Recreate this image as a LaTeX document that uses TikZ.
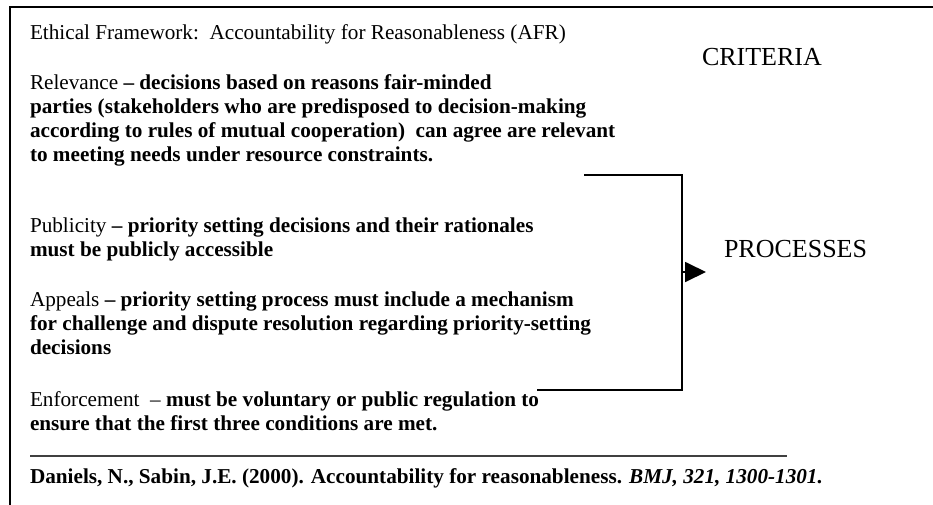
\documentclass[tikz,border=0pt]{standalone}
\usepackage{fontspec}
\setmainfont{Liberation Serif}
\usetikzlibrary{arrows.meta}
\begin{document}
\begin{tikzpicture}[x=1pt,y=-1pt,
  ln/.style={anchor=base west,inner sep=0pt,outer sep=0pt,font=\fontsize{21.2}{24}\selectfont},
  big/.style={anchor=base west,inner sep=0pt,outer sep=0pt,font=\fontsize{26}{30}\selectfont},
  frame/.style={line width=2pt,black},
  brk/.style={line width=1.8pt,black}]
\useasboundingbox (0,0) rectangle (933,504);
% outer frame (cropped on right and bottom)
\coordinate (ftl) at (10,7);
\coordinate (ftr) at (940,7);
\coordinate (fbl) at (10,510);
\draw[frame] (ftr) -- (ftl) -- (fbl);

\node[ln] (title) at (30,39) {Ethical Framework:\ \ Accountability for Reasonableness (AFR)};

\node[ln] (rel1) at (30,89) {Relevance \textbf{– decisions based on reasons fair-minded}};
\node[ln] (rel2) at (30,113) {\textbf{parties (stakeholders who are predisposed to decision-making}};
\node[ln] (rel3) at (30,137) {\textbf{according to rules of mutual cooperation)\ \ can agree are relevant}};
\node[ln] (rel4) at (30,161) {\textbf{to meeting needs under resource constraints.}};

\node[ln] (pub1) at (30,232) {Publicity \textbf{– priority setting decisions and their rationales}};
\node[ln] (pub2) at (30,256) {\textbf{must be publicly accessible}};

\node[ln] (app1) at (30,306) {Appeals \textbf{– priority setting process must include a mechanism}};
\node[ln] (app2) at (30,330) {\textbf{for challenge and dispute resolution regarding priority-setting}};
\node[ln] (app3) at (30,354) {\textbf{decisions}};

\node[ln] (enf1) at (30,406) {Enforcement\ \ – \textbf{must be voluntary or public regulation to}};
\node[ln] (enf2) at (30,430) {\textbf{ensure that the first three conditions are met.}};

\coordinate (ul1) at (30,456);
\coordinate (ul2) at (787,456);
\draw[line width=1.3pt,black!75] (ul1) -- (ul2);

\node[ln] (ref) at (30,483) {\textbf{Daniels, N., Sabin, J.E. (2000). Accountability for reasonableness. \textit{BMJ, 321, 1300-1301.}}};

\node[big] (crit) at (702,65) {CRITERIA};
\node[big] (proc) at (724,257) {PROCESSES};

% bracket
\coordinate (b1) at (584,175);
\coordinate (b2) at (682,175);
\coordinate (b3) at (682,390);
\coordinate (b4) at (537,390);
\draw[brk] (b1) -- (b2) -- (b3) -- (b4);
\coordinate (a1) at (682,272);
\coordinate (a2) at (706,272);
\draw[brk,-{Triangle[length=21pt,width=20pt]}] (a1) -- (a2);
\end{tikzpicture}
\end{document}
